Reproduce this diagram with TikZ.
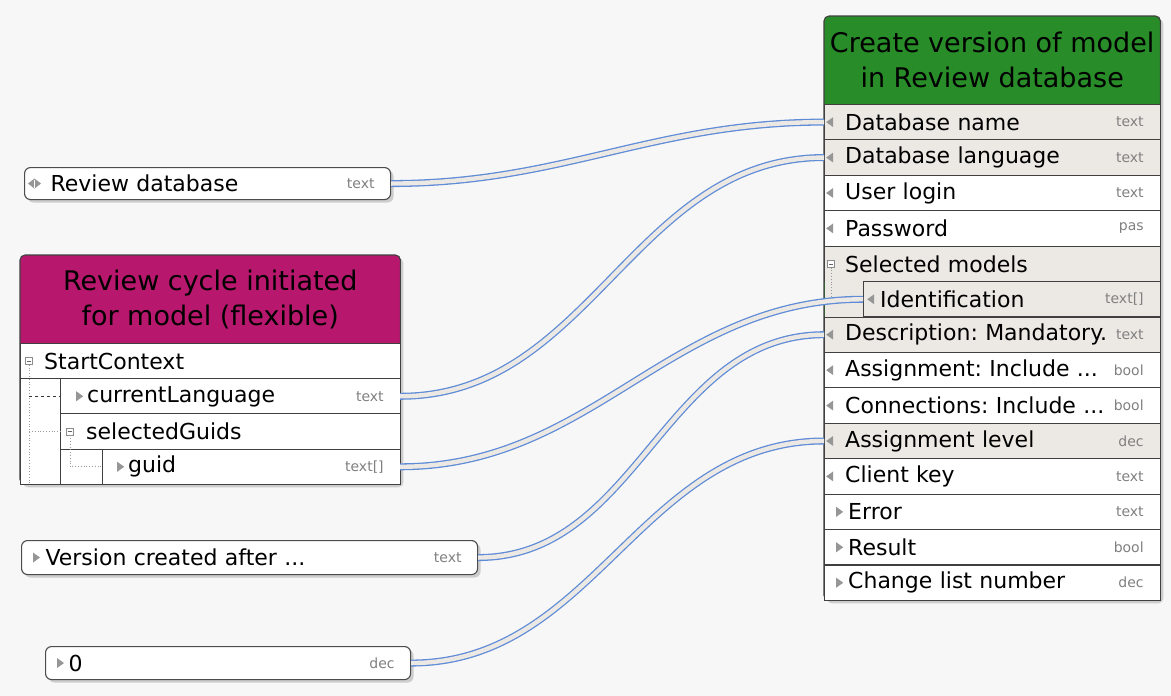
\documentclass[tikz,border=0pt]{standalone}
\usepackage{fontspec}
\setmainfont{DejaVu Sans}
\usepackage{xcolor}
\usepackage{tikz}
\usetikzlibrary{positioning,fit,backgrounds,shadows}

\definecolor{bggray}{RGB}{247,247,247}
\definecolor{hdrgreen}{RGB}{40,140,40}
\definecolor{hdrpink}{RGB}{183,24,110}
\definecolor{rowshade}{RGB}{236,233,228}
\definecolor{wireblue}{RGB}{96,140,215}
\definecolor{wirefill}{RGB}{236,233,229}
\definecolor{pingray}{RGB}{150,150,150}

\newcommand{\rowfont}{\fontsize{22}{26}\selectfont}
\newcommand{\hdrfont}{\fontsize{27}{35}\selectfont}
\newcommand{\typfont}{\fontsize{14}{16}\selectfont}
\frenchspacing

\begin{document}
\begin{tikzpicture}[
    x=1pt, y=-1pt,
    row/.style 2 args={draw=black!75, line width=1.1pt, fill=white, anchor=north west,
        inner xsep=#1, inner ysep=0pt, text width=#2, minimum height=35.43pt,
        align=left, font=\rowfont, outer sep=0pt},
    hdr/.style={anchor=north west, align=center, font=\hdrfont, inner sep=0pt},
    frame/.style={draw=black!75, line width=1.1pt, rounded corners=5pt, inner sep=0pt,
        drop shadow={shadow xshift=3pt, shadow yshift=-3pt, opacity=0.35}},
    pill/.style 2 args={draw=black!70, line width=1.1pt, fill=white, rounded corners=6pt,
        anchor=north west, inner xsep=#1, inner ysep=0pt, text width=#2, align=left,
        font=\rowfont, drop shadow={shadow xshift=3pt, shadow yshift=-3pt, opacity=0.35}},
    typ/.style={label={[font=\typfont, text=black!50, anchor=east, xshift=-13pt]east:#1}},
    shade/.style={fill=rowshade},
    pin/.style={fill=pingray},
    expd/.style={draw=black!45, fill=white, minimum size=7pt, inner sep=0pt, line width=0.6pt,
        path picture={\draw[black!60, line width=0.6pt]
            ([xshift=1.5pt]path picture bounding box.west) -- ([xshift=-1.5pt]path picture bounding box.east);}},
    tree/.style={black!40, dotted, line width=0.8pt},
    wire/.style={line width=7pt, draw=wireblue, postaction={draw=wirefill, line width=4.4pt}}
]
\useasboundingbox (0,0) rectangle (1171,696);

% called function
\node[hdr, minimum width=336pt, minimum height=88pt] (cvhdr) at (824,16) {Create version of model\\in Review database};
\node[row={21pt}{294pt}, shade, typ=text, below=0pt of cvhdr] (dbname) {Database name};
\node[row={21pt}{294pt}, shade, typ=text, below=0pt of dbname] (dblang) {Database language};
\node[row={21pt}{294pt}, typ=text, below=0pt of dblang] (login) {User login};
\node[row={21pt}{294pt}, typ=pas, below=0pt of login] (pwd) {Password};
\node[row={21pt}{294pt}, shade, below=0pt of pwd] (selmod) {Selected models};
\node[row={17pt}{263pt}, shade, typ={text[]}, below=0pt of selmod.south east, anchor=north east] (ident) {Identification};
\node[row={21pt}{294pt}, shade, typ=text, below=35.43pt of selmod] (descr) {Description: Mandatory.};
\node[row={21pt}{294pt}, typ=bool, below=0pt of descr] (assign) {Assignment: Include ...};
\node[row={21pt}{294pt}, typ=bool, below=0pt of assign] (conn) {Connections: Include ...};
\node[row={21pt}{294pt}, shade, typ=dec, below=0pt of conn] (asglvl) {Assignment level};
\node[row={21pt}{294pt}, typ=text, below=0pt of asglvl] (client) {Client key};
\node[row={24pt}{288pt}, typ=text, below=0pt of client] (error) {Error};
\node[row={24pt}{288pt}, typ=bool, below=0pt of error] (result) {Result};
\node[row={24pt}{288pt}, typ=dec, below=0pt of result] (chg) {Change list number};
\fill[rowshade] ([xshift=0.6pt,yshift=0.6pt]selmod.south west) rectangle (ident.south west);

% event with start context
\node[hdr, minimum width=380pt, minimum height=88pt] (rchdr) at (20,255) {Review cycle initiated\\for model (flexible)};
\node[row={24pt}{332pt}, minimum height=35.25pt, below=0pt of rchdr] (start) {StartContext};
\node[row={27pt}{286pt}, minimum height=35.25pt, typ=text, below=0pt of start.south east, anchor=north east] (curlang) {currentLanguage};
\node[row={26pt}{288pt}, minimum height=35.25pt, below=0pt of curlang] (sguids) {selectedGuids};
\node[row={26pt}{246pt}, minimum height=35.25pt, typ={text[]}, below=0pt of sguids.south east, anchor=north east] (guid) {guid};
\draw[black!75, line width=1.1pt] (sguids.south west) -- (sguids.south west |- guid.south);
\draw[black!75, line width=1.1pt] (start.south west) |- (guid.south west);

% constants
\node[pill={26pt}{314pt}, minimum height=32pt, typ=text] (revdb) at (24,167) {Review database};
\node[pill={24pt}{408pt}, minimum height=34pt, typ=text] (verc) at (21,540) {Version created after ...};
\node[pill={23pt}{319pt}, minimum height=33pt, typ=dec] (zero) at (45,646) {0};

\begin{scope}[on background layer]
\fill[bggray] (0,0) rectangle (1171,696);
\node[frame, fill=hdrgreen, fit=(cvhdr)(chg)] (cvframe) {};
\node[frame, fill=hdrpink, fit=(rchdr)(guid)] (rcframe) {};
\fill[white] (start.south west) rectangle (guid.south west);
\end{scope}

% tree lines and expanders
\node[expd] (start-x) at ([xshift=9pt]start.west) {};
\node[expd] (sguids-x) at ([xshift=10pt]sguids.west) {};
\node[expd] (selmod-x) at ([xshift=7pt]selmod.west) {};
\draw[tree] (start-x.south) -- ([yshift=1pt]start-x |- guid.south);
\draw[tree] (start-x |- sguids.west) -- (sguids.west);
\draw[black!80, dashed, line width=0.8pt] (start-x |- curlang.west) -- (curlang.west);
\draw[tree] (sguids-x.south) |- (guid.west);
\draw[tree] (selmod-x.south) |- (ident.west);

% port markers
\foreach \r in {dbname,dblang,login,pwd,descr,assign,conn,asglvl,client}
  \fill[pin] ([xshift=2pt]\r.west) -- ++(7,-5) -- ++(0,10) -- cycle;
\fill[pin] ([xshift=4pt]ident.west) -- ++(7,-5) -- ++(0,10) -- cycle;
\foreach \r/\d in {error/12,result/12,chg/12,curlang/16,guid/15,verc/12,zero/12}
  \fill[pin] ([xshift=\d pt,yshift=5pt]\r.west) -- ++(7,5) -- ++(-7,5) -- cycle;
\fill[pin] ([xshift=4pt]revdb.west) -- ++(6.5,-5) -- ++(6.5,5) -- ++(-6.5,5) -- cycle;
\draw[white, line width=0.8pt] ([xshift=10.5pt,yshift=4pt]revdb.west) -- ++(0,8);

% assignments
\draw[wire] (revdb.east) to[out=0,in=180] (dbname.west);
\draw[wire] (curlang.east) to[out=0,in=180] (dblang.west);
\draw[wire] (guid.east) to[out=0,in=180] (ident.west);
\draw[wire] (verc.east) to[out=0,in=180] (descr.west);
\draw[wire] (zero.east) to[out=0,in=180] (asglvl.west);
\end{tikzpicture}
\end{document}
